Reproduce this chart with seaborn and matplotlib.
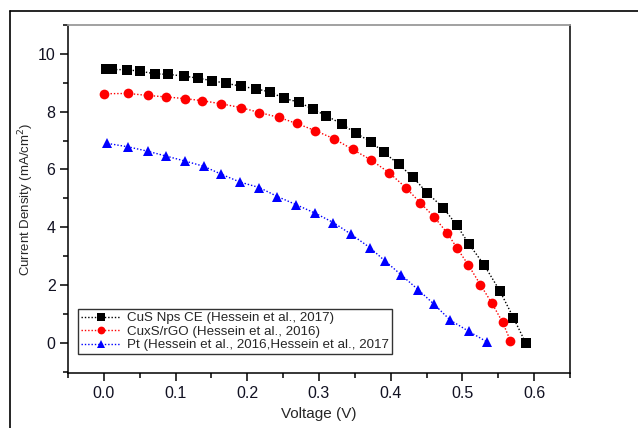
import numpy as np
import pandas as pd
import matplotlib
matplotlib.use('Agg')
import matplotlib.pyplot as plt
from matplotlib.lines import Line2D
from matplotlib.ticker import MultipleLocator
import seaborn as sns

# J-V curves
cus_v = [0.003, 0.012, 0.032, 0.051, 0.071, 0.090, 0.112, 0.131, 0.151, 0.171,
         0.191, 0.212, 0.232, 0.251, 0.272, 0.291, 0.310, 0.332, 0.351, 0.372,
         0.390, 0.411, 0.431, 0.451, 0.473, 0.492, 0.509, 0.530, 0.552, 0.571, 0.588]
cus_j = [9.46, 9.46, 9.45, 9.40, 9.31, 9.29, 9.23, 9.16, 9.07, 8.98,
         8.88, 8.79, 8.68, 8.46, 8.33, 8.09, 7.86, 7.57, 7.26, 6.96,
         6.60, 6.18, 5.73, 5.18, 4.68, 4.07, 3.42, 2.70, 1.80, 0.87, 0.0]

cuxs_v = [0.000, 0.034, 0.061, 0.087, 0.113, 0.137, 0.164, 0.191, 0.217, 0.244,
          0.269, 0.295, 0.321, 0.347, 0.373, 0.398, 0.421, 0.441, 0.461, 0.479,
          0.492, 0.508, 0.525, 0.541, 0.556, 0.567]
cuxs_j = [8.62, 8.63, 8.56, 8.51, 8.45, 8.38, 8.27, 8.14, 7.97, 7.80,
          7.59, 7.34, 7.06, 6.69, 6.32, 5.88, 5.37, 4.85, 4.34, 3.79,
          3.29, 2.70, 2.01, 1.37, 0.71, 0.06]

pt_v = [0.005, 0.034, 0.061, 0.087, 0.113, 0.139, 0.164, 0.190, 0.217, 0.242,
        0.268, 0.295, 0.320, 0.345, 0.371, 0.392, 0.415, 0.438, 0.460, 0.483,
        0.509, 0.534]
pt_j = [6.90, 6.78, 6.63, 6.46, 6.29, 6.11, 5.83, 5.56, 5.37, 5.06,
        4.78, 4.48, 4.16, 3.75, 3.29, 2.83, 2.34, 1.84, 1.34, 0.78,
        0.39, 0.03]

labels = ['CuS Nps CE (Hessein et al., 2017)',
          'CuxS/rGO (Hessein et al., 2016)',
          'Pt (Hessein et al., 2016,Hessein et al., 2017']

sns.set_style('ticks')
plt.rcParams['font.family'] = ['Liberation Sans', 'DejaVu Sans']

fig = plt.figure(figsize=(6.38, 4.28), dpi=100)
ax = fig.add_axes([68 / 638, 1 - 373 / 428, 502 / 638, 348 / 428])

dots = (0, (1, 1.4))
series = [(cus_v, cus_j, 's', 'black', 6.5),
          (cuxs_v, cuxs_j, 'o', 'red', 7),
          (pt_v, pt_j, '^', 'blue', 7.5)]
for (v, j, mk, col, ms), lab in zip(series, labels):
    df = pd.DataFrame({'V': v, 'J': j})
    sns.lineplot(data=df, x='V', y='J', ax=ax, sort=False, marker=mk,
                 markersize=ms, markeredgewidth=0, color=col,
                 linestyle=dots, linewidth=1.0, label=lab)

ax.set_xlim(-0.05, 0.65)
ax.set_ylim(-1.05, 11.0)
ax.xaxis.set_minor_locator(MultipleLocator(0.05))
ax.yaxis.set_minor_locator(MultipleLocator(1))
ax.set_xticks(np.arange(0, 0.61, 0.1))
ax.set_xticklabels(['0.0', '0.1', '0.2', '0.3', '0.4', '0.5', '0.6'])
ax.set_yticks([0, 2, 4, 6, 8, 10])

ax.tick_params(which='major', direction='out', length=6, width=1.1,
               labelsize=11.5, pad=3, color='black', labelcolor='#111122')
ax.tick_params(which='minor', direction='out', length=3.5, width=1.1,
               color='black')
ax.tick_params(top=False, right=False, which='both')

for side in ['left', 'bottom', 'right']:
    ax.spines[side].set_color('black')
    ax.spines[side].set_linewidth(1.1)
ax.spines['top'].set_color('#9a9a9a')
ax.spines['top'].set_linewidth(1.3)

ax.set_xlabel('Voltage (V)', fontsize=11, labelpad=5)
ax.set_ylabel('Current Density (mA/cm$^2$)', fontsize=9.5, labelpad=1)

leg = ax.legend(loc='lower left', bbox_to_anchor=(0.02, 0.055), fontsize=9.6,
                frameon=True, fancybox=False, framealpha=1, edgecolor='#333333',
                handlelength=3.0, handletextpad=0.5, labelspacing=0.08,
                borderpad=0.2, borderaxespad=0, numpoints=1, markerscale=0.8)
leg.get_frame().set_linewidth(1.0)

# outer frame of the original figure
fig.add_artist(Line2D([9.5 / 638, 1.0], [1 - 11 / 428, 1 - 11 / 428],
                      transform=fig.transFigure, color='black', lw=1.2))
fig.add_artist(Line2D([9.5 / 638, 9.5 / 638], [0.0, 1 - 11 / 428],
                      transform=fig.transFigure, color='black', lw=1.2))

fig.savefig('out.png', dpi=100)
